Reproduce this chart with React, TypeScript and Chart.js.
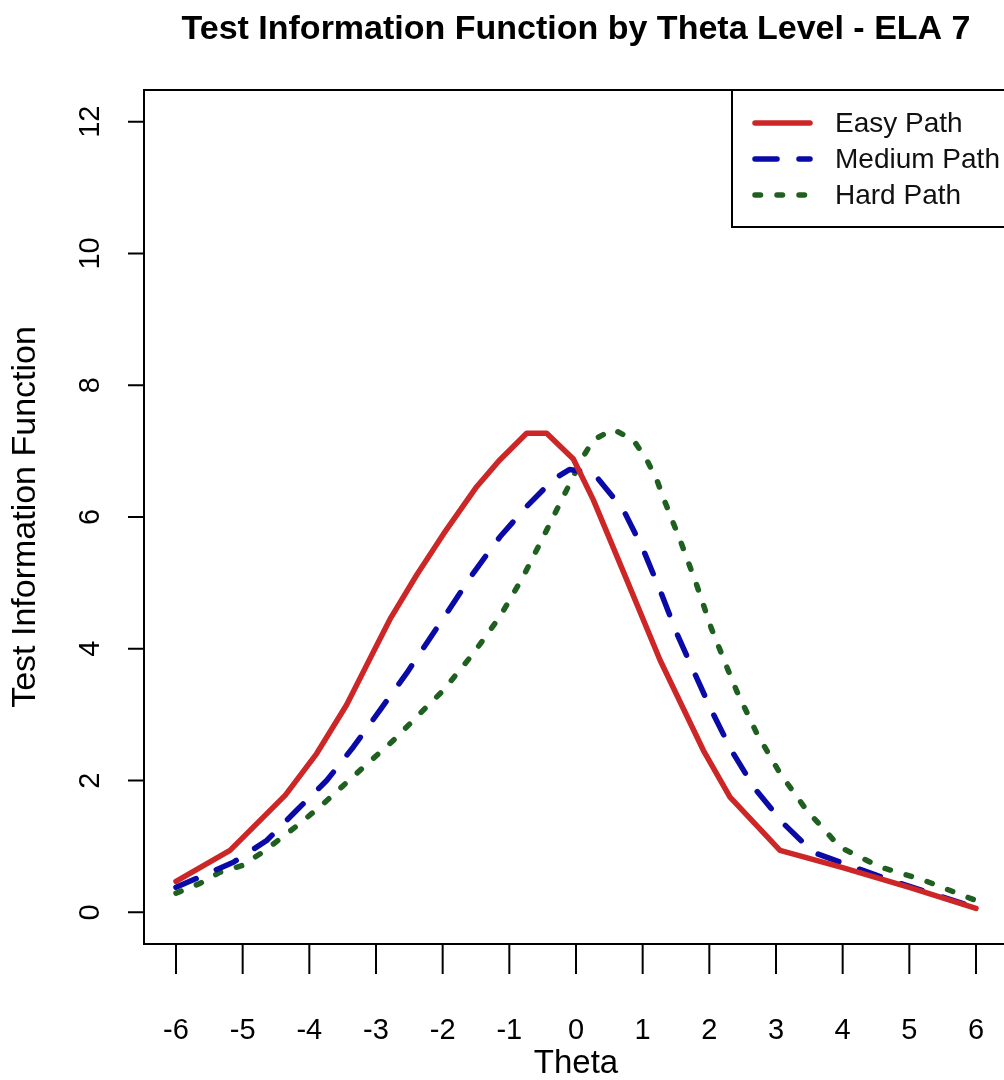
import { useEffect, useRef } from "react";
import { Chart, registerables } from "chart.js";

Chart.register(...registerables);

// Test information by theta for each routing path
const EASY_THETA = [-6, -5.19, -4.36, -3.89, -3.44, -3.04, -2.79, -2.39, -1.99, -1.49, -1.14, -0.74, -0.44, -0.04, 0.26, 0.76, 1.26, 1.91, 2.31, 3.06, 4.0, 5.0, 6];
const EASY_TIF = [0.47, 0.94, 1.78, 2.41, 3.15, 3.95, 4.45, 5.12, 5.74, 6.46, 6.87, 7.27, 7.27, 6.88, 6.26, 5.05, 3.83, 2.46, 1.75, 0.94, 0.68, 0.38, 0.06];

const MEDIUM_THETA = [-6, -5.14, -4.64, -4.19, -3.74, -3.34, -2.94, -2.54, -1.94, -1.54, -1.14, -0.74, -0.34, -0.1, 0.26, 0.71, 1.01, 1.26, 1.51, 1.76, 2.03, 2.33, 2.68, 3.11, 3.56, 4.21, 4.86, 6];
const MEDIUM_TIF = [0.38, 0.76, 1.09, 1.55, 2.0, 2.51, 3.07, 3.63, 4.54, 5.15, 5.7, 6.16, 6.57, 6.72, 6.67, 6.11, 5.5, 4.89, 4.24, 3.67, 3.07, 2.46, 1.88, 1.35, 0.91, 0.67, 0.44, 0.07];

const HARD_THETA = [-6, -5.64, -5.34, -5.01, -4.69, -4.14, -3.81, -3.29, -2.74, -2.24, -1.99, -1.54, -1.14, -0.79, -0.49, -0.19, 0.11, 0.26, 0.56, 0.86, 1.06, 1.21, 1.33, 1.58, 1.81, 2.03, 2.28, 2.41, 2.71, 3.06, 3.46, 3.96, 4.56, 5.21, 6];
const HARD_TIF = [0.29, 0.44, 0.61, 0.71, 0.92, 1.35, 1.63, 2.11, 2.61, 3.12, 3.37, 3.93, 4.49, 5.1, 5.7, 6.31, 6.92, 7.17, 7.33, 7.17, 6.87, 6.57, 6.24, 5.6, 4.97, 4.31, 3.68, 3.36, 2.72, 2.11, 1.55, 0.99, 0.69, 0.49, 0.18];

const SERIES_NAMES = ["Easy Path", "Medium Path", "Hard Path"];
const X_TICKS = [-6, -5, -4, -3, -2, -1, 0, 1, 2, 3, 4, 5, 6];
const Y_TICKS = [0, 2, 4, 6, 8, 10, 12];
const TITLE = "Test Information Function by Theta Level - ELA 7";
const X_TITLE = "Theta";
const Y_TITLE = "Test Information Function";

const FONT = '"Liberation Sans", Arial, sans-serif';
const LINE_W = 5.5;

const points = (xs: number[], ys: number[]) => xs.map((x, i) => ({ x, y: ys[i] }));

// Box, ticks, axis text, title and legend in the style of base R graphics
const framePlugin = {
  id: "rFrame",
  afterDraw(chart: any) {
    const { ctx, chartArea: a, scales } = chart;
    const xs = scales.x;
    const ys = scales.y;
    ctx.save();

    ctx.strokeStyle = "#000";
    ctx.lineWidth = 2;
    ctx.setLineDash([]);
    ctx.strokeRect(a.left, a.top, a.right - a.left, a.bottom - a.top);

    ctx.beginPath();
    X_TICKS.forEach((v) => {
      const px = xs.getPixelForValue(v);
      ctx.moveTo(px, a.bottom);
      ctx.lineTo(px, a.bottom + 30);
    });
    Y_TICKS.forEach((v) => {
      const py = ys.getPixelForValue(v);
      ctx.moveTo(a.left, py);
      ctx.lineTo(a.left - 16, py);
    });
    ctx.stroke();

    ctx.fillStyle = "#000";
    ctx.textAlign = "center";
    ctx.textBaseline = "middle";

    ctx.font = `29px ${FONT}`;
    X_TICKS.forEach((v) => {
      ctx.fillText(String(v), xs.getPixelForValue(v), 1031);
    });
    Y_TICKS.forEach((v) => {
      ctx.save();
      ctx.translate(91, ys.getPixelForValue(v));
      ctx.rotate(-Math.PI / 2);
      ctx.fillText(String(v), 0, 0);
      ctx.restore();
    });

    ctx.font = `33px ${FONT}`;
    ctx.fillText(X_TITLE, (a.left + a.right) / 2, 1064);
    ctx.font = `34px ${FONT}`;
    ctx.save();
    ctx.translate(26, (a.top + a.bottom) / 2);
    ctx.rotate(-Math.PI / 2);
    ctx.fillText(Y_TITLE, 0, 0);
    ctx.restore();

    ctx.font = `bold 34px ${FONT}`;
    ctx.fillText(TITLE, (a.left + a.right) / 2, 30);

    // legend, top right corner of the plot box
    const lw = 276;
    const lh = 137;
    const lx = a.right - lw;
    const ly = a.top;
    ctx.fillStyle = "#fff";
    ctx.fillRect(lx, ly, lw, lh);
    ctx.strokeStyle = "#000";
    ctx.lineWidth = 2;
    ctx.strokeRect(lx, ly, lw, lh);

    ctx.font = `28px ${FONT}`;
    ctx.textAlign = "left";
    chart.data.datasets.forEach((ds: any, i: number) => {
      const rowY = ly + 33 + i * 36;
      ctx.beginPath();
      ctx.strokeStyle = ds.borderColor;
      ctx.lineWidth = LINE_W;
      ctx.lineCap = "round";
      ctx.setLineDash(ds.borderDash || []);
      ctx.moveTo(lx + 23, rowY);
      ctx.lineTo(lx + 78, rowY);
      ctx.stroke();
      ctx.setLineDash([]);
      ctx.fillStyle = "#111";
      ctx.fillText(ds.label, lx + 103, rowY + 1);
    });

    ctx.restore();
  },
};

export default function App() {
  const canvasRef = useRef<HTMLCanvasElement | null>(null);

  useEffect(() => {
    const canvas = canvasRef.current;
    if (!canvas) return;
    const chart = new Chart(canvas, {
      type: "line",
      data: {
        datasets: [
          {
            label: SERIES_NAMES[0],
            data: points(EASY_THETA, EASY_TIF),
            borderColor: "#cd2626",
            borderWidth: LINE_W,
            borderCapStyle: "round",
            borderJoinStyle: "round",
          },
          {
            label: SERIES_NAMES[1],
            data: points(MEDIUM_THETA, MEDIUM_TIF),
            borderColor: "#0a0aa8",
            borderWidth: LINE_W,
            borderDash: [22, 22],
            borderCapStyle: "round",
            borderJoinStyle: "round",
          },
          {
            label: SERIES_NAMES[2],
            data: points(HARD_THETA, HARD_TIF),
            borderColor: "#1f5f1f",
            borderWidth: LINE_W,
            borderDash: [5.5, 16.5],
            borderCapStyle: "round",
            borderJoinStyle: "round",
          },
        ],
      },
      options: {
        animation: false,
        responsive: false,
        devicePixelRatio: 1,
        layout: { padding: { left: 144, top: 90, right: 8, bottom: 136 } },
        elements: { point: { radius: 0 }, line: { tension: 0 } },
        scales: {
          x: { type: "linear", min: -6.48, max: 6.48, display: false },
          y: { type: "linear", min: -0.48, max: 12.48, display: false },
        },
        plugins: {
          legend: { display: false },
          title: { display: false },
          tooltip: { enabled: false },
        },
      },
      plugins: [framePlugin],
    });
    return () => chart.destroy();
  }, []);

  return (
    <div
      style={{
        position: "absolute",
        left: 0,
        top: 0,
        width: 1004,
        height: 1080,
        overflow: "hidden",
        background: "#fff",
      }}
    >
      <canvas ref={canvasRef} width={1016} height={1080} style={{ display: "block" }} />
    </div>
  );
}
